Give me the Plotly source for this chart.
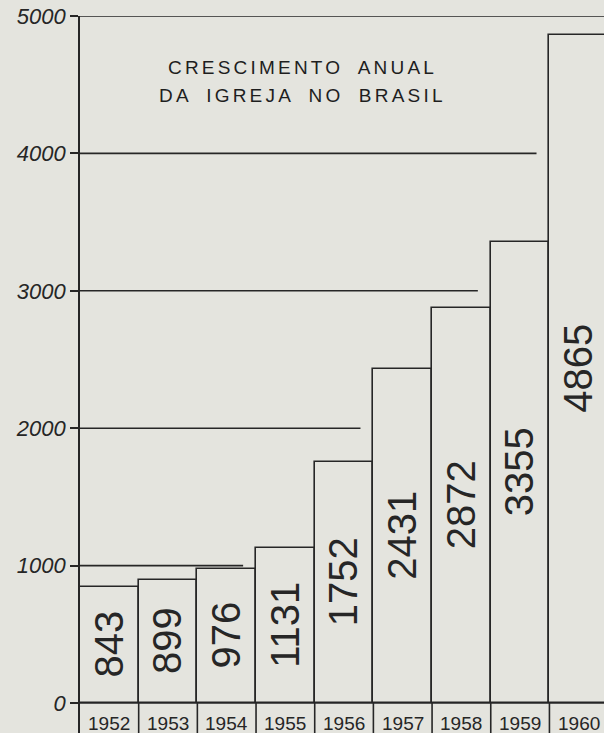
import plotly.graph_objects as go

# ---- data ----
years = ["1952", "1953", "1954", "1955", "1956", "1957", "1958", "1959", "1960"]
members = [843, 899, 976, 1131, 1752, 2431, 2872, 3355, 4865]
y_ticks = [0, 1000, 2000, 3000, 4000, 5000]
y_tick_labels = ["0", "1000", "2000", "3000", "4000", "5000"]
title_lines = ["CRESCIMENTO ANUAL", "DA IGREJA NO BRASIL"]

# ---- style ----
BG = "#e4e4de"
INK = "#262626"
LW = 1.6
X_MIN, X_MAX = -0.5, 8.43
Y_MIN, Y_MAX = -218, 5000
GAP = 0.22  # gap before the first taller bar, in category units

xs = list(range(len(years)))

fig = go.Figure()
fig.add_trace(go.Bar(
    x=xs, y=members, width=1,
    marker=dict(color="rgba(0,0,0,0)", line=dict(color=INK, width=LW)),
    text=[str(v) for v in members],
    textposition="inside", insidetextanchor="middle", textangle=-90,
    constraintext="none",
    textfont=dict(family="Liberation Sans", size=40, color=INK),
    hoverinfo="skip", showlegend=False,
))

shapes = []
# baseline at zero, full width
shapes.append(dict(type="line", xref="paper", yref="y", x0=0, x1=1, y0=0, y1=0,
                   line=dict(color=INK, width=LW)))
# guide lines stop short of the first bar that rises above them
for lvl in y_ticks[1:]:
    idx = next((i for i, v in enumerate(members) if v > lvl), None)
    x_end = (xs[idx] - 0.5 - GAP) if idx is not None else X_MAX
    shapes.append(dict(type="line", xref="x", yref="y", x0=X_MIN, x1=x_end, y0=lvl, y1=lvl,
                       line=dict(color=INK, width=LW)))
# separators under the baseline for the year row
for i in xs:
    shapes.append(dict(type="line", xref="x", yref="y", x0=i + 0.5, x1=i + 0.5, y0=Y_MIN, y1=0,
                       line=dict(color=INK, width=LW)))

annotations = []
for i, yr in zip(xs, years):
    annotations.append(dict(x=i, y=0, xref="x", yref="paper", text=yr, showarrow=False,
                            yanchor="middle", yshift=10,
                            font=dict(family="Liberation Sans", size=19, color=INK)))
title_x = (302 - 80) / 524
plot_top, plot_h = 16, 733 - 16
for k, line in enumerate(title_lines):
    ypix = [68, 96][k]
    annotations.append(dict(
        x=title_x, y=1 - (ypix - plot_top) / plot_h, xref="paper", yref="paper", showarrow=False,
        text=f'<span style="letter-spacing:3.2px;word-spacing:7px">{line}</span>',
        xanchor="center", yanchor="middle",
        font=dict(family="Liberation Sans", size=19, color="#1e1e1e")))

fig.update_layout(
    width=604, height=733,
    margin=dict(l=80, r=0, t=16, b=0),
    paper_bgcolor=BG, plot_bgcolor=BG,
    bargap=0,
    xaxis=dict(range=[X_MIN, X_MAX], visible=False, fixedrange=True),
    yaxis=dict(range=[Y_MIN, Y_MAX], tickvals=y_ticks, ticktext=y_tick_labels,
               showgrid=False, zeroline=False, showline=True, linecolor=INK, linewidth=LW,
               ticks="outside", ticklen=8, tickwidth=LW, tickcolor=INK,
               tickfont=dict(family="Liberation Sans", size=22, color=INK, style="italic"),
               fixedrange=True),
    shapes=shapes,
    annotations=annotations,
)

fig.write_html(
    "out.html",
    config={"displayModeBar": False},
    post_script="document.body.style.margin='0';document.body.style.background='%s';" % BG,
)
